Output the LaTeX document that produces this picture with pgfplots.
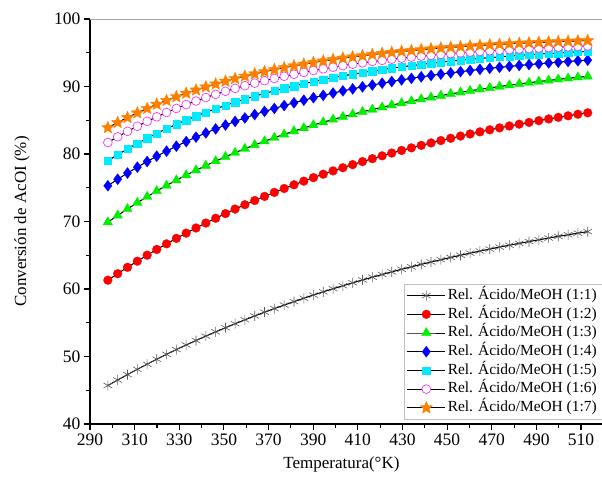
\documentclass[border=0pt]{standalone}
\usepackage{fontspec}
\setmainfont{Liberation Serif}
\usepackage{pgfplots}
\usepackage{pgfplotstable}
\pgfplotsset{compat=1.18}
\usetikzlibrary{plotmarks}

\definecolor{cRed}{RGB}{255,0,0}
\definecolor{cGreen}{RGB}{0,240,0}
\definecolor{cBlue}{RGB}{0,0,255}
\definecolor{cCyan}{RGB}{0,235,255}
\definecolor{cMag}{RGB}{240,60,240}
\definecolor{cOrange}{RGB}{255,128,0}

\pgfdeclareplotmark{fstar}{%
  \pgfpathmoveto{\pgfpointpolar{90}{\pgfplotmarksize}}%
  \pgfpathlineto{\pgfpointpolar{126}{0.45\pgfplotmarksize}}%
  \pgfpathlineto{\pgfpointpolar{162}{\pgfplotmarksize}}%
  \pgfpathlineto{\pgfpointpolar{198}{0.45\pgfplotmarksize}}%
  \pgfpathlineto{\pgfpointpolar{234}{\pgfplotmarksize}}%
  \pgfpathlineto{\pgfpointpolar{270}{0.45\pgfplotmarksize}}%
  \pgfpathlineto{\pgfpointpolar{306}{\pgfplotmarksize}}%
  \pgfpathlineto{\pgfpointpolar{342}{0.45\pgfplotmarksize}}%
  \pgfpathlineto{\pgfpointpolar{18}{\pgfplotmarksize}}%
  \pgfpathlineto{\pgfpointpolar{54}{0.45\pgfplotmarksize}}%
  \pgfpathclose
  \pgfusepathqfillstroke
}

\pgfplotstableread{
T s1 s2 s3 s4 s5 s6 s7
298.0 45.70 61.30 69.90 75.30 79.00 81.70 83.90
302.4 46.52 62.27 70.90 76.26 79.90 82.55 84.67
306.8 47.32 63.21 71.86 77.18 80.75 83.36 85.40
311.2 48.10 64.12 72.78 78.05 81.56 84.11 86.09
315.6 48.86 65.01 73.67 78.88 82.33 84.83 86.74
319.9 49.60 65.86 74.52 79.68 83.05 85.51 87.36
324.3 50.32 66.69 75.33 80.43 83.74 86.15 87.93
328.7 51.03 67.50 76.12 81.16 84.40 86.75 88.48
333.1 51.71 68.28 76.87 81.84 85.02 87.32 89.00
337.5 52.37 69.04 77.59 82.50 85.61 87.85 89.48
341.9 53.02 69.77 78.28 83.12 86.17 88.36 89.94
346.3 53.65 70.48 78.95 83.72 86.70 88.84 90.37
350.7 54.26 71.17 79.58 84.29 87.20 89.29 90.78
355.0 54.86 71.84 80.20 84.83 87.68 89.72 91.17
359.4 55.44 72.49 80.78 85.34 88.14 90.12 91.53
363.8 56.01 73.11 81.35 85.84 88.57 90.50 91.87
368.2 56.56 73.72 81.89 86.31 88.97 90.86 92.19
372.6 57.10 74.31 82.41 86.75 89.36 91.20 92.50
377.0 57.62 74.89 82.91 87.18 89.73 91.52 92.79
381.4 58.13 75.44 83.39 87.59 90.08 91.82 93.06
385.8 58.63 75.98 83.85 87.97 90.41 92.10 93.31
390.1 59.11 76.50 84.29 88.34 90.72 92.37 93.56
394.5 59.58 77.01 84.71 88.69 91.02 92.62 93.78
398.9 60.04 77.50 85.12 89.03 91.30 92.86 94.00
403.3 60.48 77.97 85.51 89.35 91.57 93.09 94.20
407.7 60.92 78.43 85.89 89.65 91.82 93.30 94.39
412.1 61.34 78.88 86.25 89.95 92.06 93.51 94.57
416.5 61.75 79.31 86.59 90.22 92.29 93.70 94.74
420.9 62.15 79.73 86.92 90.49 92.51 93.87 94.90
425.2 62.54 80.14 87.24 90.74 92.72 94.04 95.06
429.6 62.92 80.53 87.55 90.98 92.91 94.20 95.20
434.0 63.29 80.91 87.84 91.21 93.10 94.36 95.33
438.4 63.65 81.28 88.12 91.43 93.27 94.50 95.46
442.8 64.00 81.64 88.39 91.63 93.44 94.63 95.58
447.2 64.34 81.99 88.65 91.83 93.60 94.76 95.70
451.6 64.67 82.33 88.90 92.02 93.75 94.88 95.80
456.0 65.00 82.66 89.14 92.20 93.89 94.99 95.90
460.3 65.31 82.97 89.37 92.37 94.03 95.10 96.00
464.7 65.62 83.28 89.59 92.54 94.15 95.20 96.09
469.1 65.92 83.58 89.80 92.69 94.28 95.30 96.17
473.5 66.21 83.87 90.00 92.84 94.39 95.39 96.25
477.9 66.49 84.15 90.20 92.98 94.50 95.47 96.33
482.3 66.76 84.42 90.38 93.12 94.61 95.55 96.40
486.7 67.03 84.68 90.56 93.25 94.70 95.63 96.47
491.1 67.29 84.94 90.74 93.37 94.80 95.70 96.53
495.5 67.55 85.19 90.90 93.49 94.89 95.77 96.59
499.8 67.80 85.43 91.06 93.60 94.97 95.83 96.65
504.2 68.04 85.66 91.21 93.71 95.05 95.89 96.70
508.6 68.27 85.89 91.36 93.81 95.13 95.95 96.75
513.0 68.50 86.10 91.50 93.90 95.20 96.00 96.80
}\data

\begin{document}
\begin{tikzpicture}
\path[use as bounding box] (-90pt,-61pt) rectangle (512pt,424pt);
\begin{axis}[
  scale only axis,
  width=512pt, height=405pt,
  xmin=290, xmax=519.4, ymin=40, ymax=100,
  xtick={290,310,...,510}, ytick={40,50,...,100},
  minor x tick num=1, minor y tick num=1,
  axis x line*=bottom, axis y line*=left,
  axis line style={line width=1.2pt, black},
  tick align=outside,
  major tick length=6pt, minor tick length=3.5pt,
  every tick/.style={black, line width=1.1pt},
  /pgf/number format/assume math mode=true,
  /pgf/number format/1000 sep={},
  tick label style={font=\fontsize{17.5}{18}\selectfont},
  xlabel={Temperatura(°K)},
  ylabel={Conversión de AcOI (\%)},
  label style={font=\fontsize{17}{18}\selectfont},
  xlabel style={at={(axis description cs:0.491,-0.101)}, anchor=center},
  ylabel style={at={(axis description cs:-0.133,0.5)}, anchor=center},
  legend cell align=left,
  legend style={at={(1,0.3457)}, anchor=north east, draw=gray!50, line width=0.5pt,
    font=\fontsize{15.4}{18}\selectfont, row sep=0pt,
    nodes={text height=11pt, text depth=3.5pt, inner sep=2.1pt}},
  legend image code/.code={\draw[mark repeat=2,mark phase=2] plot coordinates {(0pt,0pt) (19pt,0pt) (38pt,0pt)};},
]
\draw[gray!70, line width=1pt] (rel axis cs:0,1) -- (rel axis cs:1,1);

\addplot[black, line width=0.8pt, mark=asterisk, mark size=5pt, mark options={solid, draw=black!65, line width=0.6pt}] table[x=T,y=s1] {\data};
\addlegendentry{Rel. Ácido/MeOH (1:1)}
\addplot[black, line width=0.8pt, mark=*, mark size=4.4pt, mark options={solid, draw=cRed, fill=cRed, line width=0.3pt}] table[x=T,y=s2] {\data};
\addlegendentry{Rel. Ácido/MeOH (1:2)}
\addplot[black, line width=0.8pt, mark=triangle*, mark size=5.5pt, mark options={solid, draw=cGreen, fill=cGreen, line width=0.3pt}] table[x=T,y=s3] {\data};
\addlegendentry{Rel. Ácido/MeOH (1:3)}
\addplot[black, line width=0.8pt, mark=diamond*, mark size=5.5pt, mark options={solid, draw=cBlue, fill=cBlue, line width=0.3pt}] table[x=T,y=s4] {\data};
\addlegendentry{Rel. Ácido/MeOH (1:4)}
\addplot[black, line width=0.8pt, mark=square*, mark size=3.7pt, mark options={solid, draw=cCyan, fill=cCyan, line width=0.3pt}] table[x=T,y=s5] {\data};
\addlegendentry{Rel. Ácido/MeOH (1:5)}
\addplot[black, line width=0.8pt, mark=*, mark size=4.4pt, mark options={solid, draw=cMag, fill=white, line width=0.7pt}] table[x=T,y=s6] {\data};
\addlegendentry{Rel. Ácido/MeOH (1:6)}
\addplot[black, line width=0.8pt, mark=fstar, mark size=6.5pt, mark options={solid, draw=cOrange, fill=cOrange, line width=0.3pt}] table[x=T,y=s7] {\data};
\addlegendentry{Rel. Ácido/MeOH (1:7)}

\addplot[black, line width=0.7pt, forget plot] table[x=T,y=s1] {\data};
\addplot[black, line width=0.7pt, forget plot] table[x=T,y=s2] {\data};
\addplot[black, line width=0.7pt, forget plot] table[x=T,y=s3] {\data};
\addplot[black, line width=0.7pt, forget plot] table[x=T,y=s4] {\data};
\addplot[black, line width=0.7pt, forget plot] table[x=T,y=s5] {\data};
\addplot[black, line width=0.7pt, forget plot] table[x=T,y=s6] {\data};
\addplot[black, line width=0.7pt, forget plot] table[x=T,y=s7] {\data};
\end{axis}
\end{tikzpicture}
\end{document}
